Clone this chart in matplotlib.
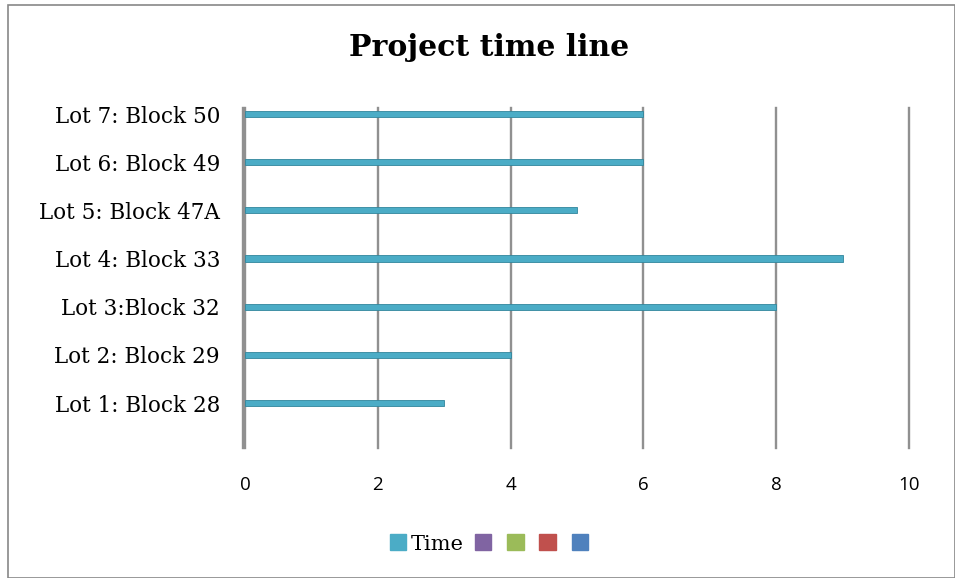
import matplotlib
matplotlib.use("Agg")
import matplotlib.pyplot as plt
from matplotlib.patches import Rectangle, Patch

# data
lots = ["Lot 1: Block 28", "Lot 2: Block 29", "Lot 3:Block 32", "Lot 4: Block 33",
        "Lot 5: Block 47A", "Lot 6: Block 49", "Lot 7: Block 50"]
time_values = [3, 4, 8, 9, 5, 6, 6]
x_ticks = [0, 2, 4, 6, 8, 10]

BAR_COLOR = "#4BACC6"
EMPTY_SERIES = ["#8064A2", "#9BBB59", "#C0504D", "#4F81BD"]
GRID_COLOR = "#909090"

W, H = 955, 578
fig = plt.figure(figsize=(W / 100, H / 100), dpi=100)

# plot area in pixels: x 245..909, y 108..448
ax = fig.add_axes([245 / W, 1 - 448 / H, (909 - 245) / W, (448 - 108) / H])
ax.set_xlim(0, 10)
ax.set_ylim(-0.934, 6.125)

for x in x_ticks:
    ax.axvline(x, color=GRID_COLOR, lw=1.7, zorder=1, clip_on=False)
ax.axvline(-0.03, color=GRID_COLOR, lw=1.7, zorder=1, clip_on=False)

ys = list(range(len(lots)))
ax.barh(ys, time_values, height=0.13, color=BAR_COLOR, edgecolor="#31859C",
        linewidth=0.6, zorder=3)

for s in ax.spines.values():
    s.set_visible(False)
ax.set_yticks(ys)
ax.set_yticklabels(lots, family="DejaVu Serif", fontsize=15.5)
ax.set_xticks(x_ticks)
ax.set_xticklabels([str(x) for x in x_ticks], family="Open Sans", fontsize=13.5)
ax.tick_params(axis="both", length=0)
ax.tick_params(axis="y", pad=18)
ax.tick_params(axis="x", pad=20)

fig.text(489 / W, 1 - 48 / H, "Project time line", ha="center", va="center",
         family="DejaVu Serif", fontweight="bold", fontsize=21.5)

handles = [Patch(color=BAR_COLOR, label="Time")] + [Patch(color=c, label="") for c in EMPTY_SERIES]
leg = fig.legend(handles=handles, loc="center", bbox_to_anchor=(491 / W, 1 - 544 / H),
                 ncol=5, frameon=False, handlelength=0.8, handleheight=0.8,
                 handletextpad=0.2, columnspacing=0.55,
                 prop={"family": "DejaVu Serif", "size": 15})

fig.patches.append(Rectangle((8 / W, 0), 1 - 8 / W - 0.5 / W, 1 - 5 / H,
                             transform=fig.transFigure, fill=False,
                             edgecolor="#888888", lw=1.2))

fig.savefig("out.png", dpi=100)
